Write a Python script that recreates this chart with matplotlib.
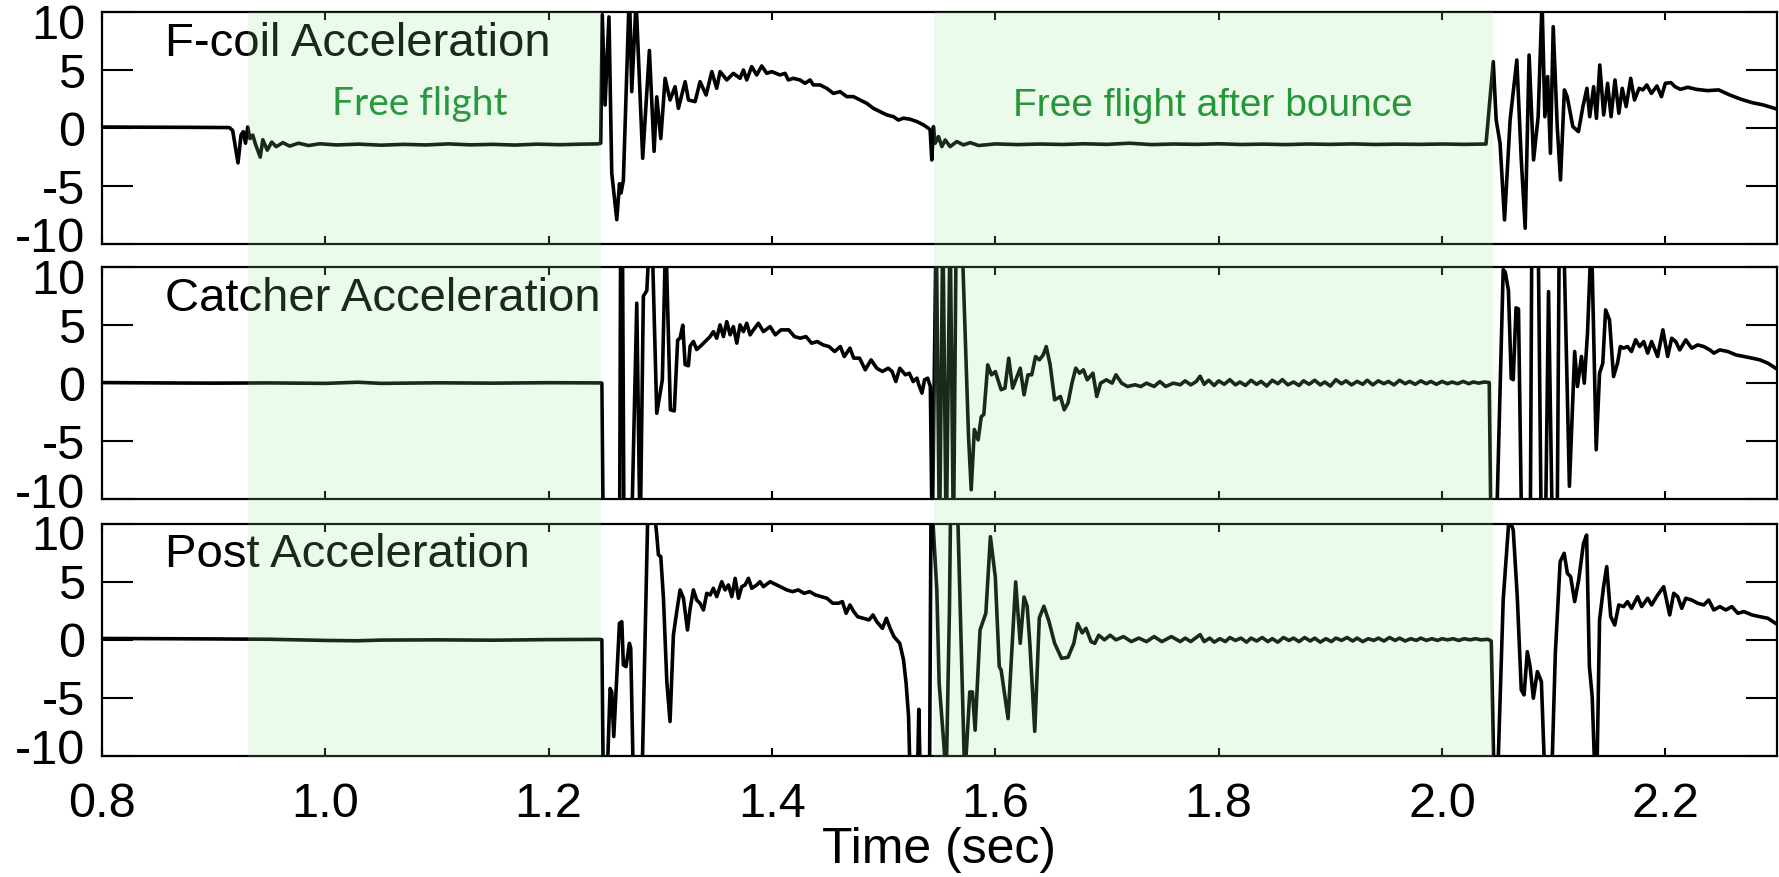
import numpy as np
import matplotlib
matplotlib.use("Agg")
import matplotlib.pyplot as plt
import matplotlib.transforms as mtransforms
from matplotlib import font_manager
from matplotlib.patches import Rectangle

plt.rcParams['font.family'] = ['Liberation Sans', 'DejaVu Sans']
plt.rcParams['axes.unicode_minus'] = False

# --- accelerometer traces: (time in s, acceleration) ---
fcoil = [
    (0.800, 0.10), (0.840, 0.08), (0.880, 0.07), (0.914, 0.05),
    (0.917, -0.2), (0.9218, -3.0), (0.9245, -0.6), (0.9265, -0.3), (0.9285, -1.3),
    (0.9305, 0.1), (0.9325, -0.9), (0.9350, -0.6), (0.9375, -1.4), (0.9417, -2.5),
    (0.9440, -1.0), (0.9480, -1.9), (0.9520, -1.2), (0.9560, -1.6), (0.9620, -1.25),
    (0.9680, -1.55), (0.9760, -1.30), (0.9850, -1.50), (0.9950, -1.35), (1.010, -1.45),
    (1.030, -1.38), (1.050, -1.47), (1.070, -1.40), (1.090, -1.45), (1.110, -1.36),
    (1.130, -1.44), (1.150, -1.40), (1.170, -1.46), (1.190, -1.38), (1.210, -1.43),
    (1.230, -1.38), (1.2443, -1.36), (1.2466, -1.30),
    (1.2480, 9.8), (1.2505, 2.0), (1.2540, 9.6), (1.2565, -3.9), (1.2610, -7.9),
    (1.2634, -4.8), (1.2648, -5.6), (1.2669, -4.5), (1.2723, 12.0), (1.2744, 3.15),
    (1.2783, 11.0), (1.2842, -2.6), (1.2902, 6.7), (1.2944, -2.0), (1.2968, 2.7),
    (1.3004, -0.9), (1.3043, 4.30), (1.3087, 2.43), (1.3132, 3.58), (1.3162, 1.71),
    (1.3222, 4.01), (1.3252, 2.43), (1.3311, 2.29), (1.3356, 4.01), (1.3410, 2.86),
    (1.3461, 4.88), (1.3505, 3.44), (1.3535, 4.88), (1.3595, 4.16), (1.3654, 4.73),
    (1.3714, 4.30), (1.3744, 5.02), (1.3774, 4.16), (1.3818, 5.31), (1.3863, 4.59),
    (1.3908, 5.37), (1.3953, 4.73), (1.3997, 4.88), (1.4072, 4.59), (1.4117, 4.73),
    (1.4146, 4.16), (1.4191, 4.30), (1.4251, 4.16), (1.4296, 3.87), (1.4341, 4.16),
    (1.4370, 3.73), (1.4430, 3.73), (1.4490, 3.44), (1.4550, 3.00), (1.4610, 3.15),
    (1.4669, 2.72), (1.4729, 2.72), (1.4789, 2.43), (1.4849, 2.14), (1.4908, 1.71),
    (1.4968, 1.43), (1.5028, 1.14), (1.5088, 0.99), (1.5132, 0.70), (1.5177, 0.86),
    (1.5237, 0.77), (1.5297, 0.57), (1.5357, 0.28), (1.5401, -0.01), (1.5416, -0.16),
    (1.5431, -2.74), (1.5446, 0.13), (1.5461, -1.31), (1.5491, -0.73), (1.5521, -1.59),
    (1.5551, -1.02), (1.5595, -1.59), (1.5655, -1.16), (1.5715, -1.45), (1.5775, -1.25),
    (1.5850, -1.50), (1.600, -1.36), (1.620, -1.42), (1.640, -1.37), (1.660, -1.41),
    (1.680, -1.35), (1.700, -1.40), (1.720, -1.30), (1.740, -1.42), (1.760, -1.37),
    (1.780, -1.40), (1.800, -1.35), (1.820, -1.41), (1.840, -1.38), (1.860, -1.42),
    (1.880, -1.37), (1.900, -1.40), (1.920, -1.36), (1.940, -1.41), (1.960, -1.38),
    (1.980, -1.40), (2.000, -1.37), (2.020, -1.40), (2.0394, -1.37),
    (2.0459, 5.74), (2.0485, 0.71), (2.0520, -1.31), (2.0560, -7.92), (2.0610, 0.71),
    (2.0670, 5.88), (2.0710, -2.74), (2.0745, -8.64), (2.0780, 6.31), (2.0820, -2.74),
    (2.0861, 0.99), (2.0896, 11.0), (2.0921, 0.99), (2.0946, 4.45), (2.0971, -2.17),
    (2.0996, 8.76), (2.1032, 0.13), (2.1061, -4.47), (2.1096, 3.30), (2.1121, 2.72),
    (2.1172, 0.13), (2.1222, -0.30), (2.1262, 1.86), (2.1298, 3.44), (2.1323, 0.99),
    (2.1358, 3.58), (2.1383, 0.85), (2.1413, 5.45), (2.1448, 1.14), (2.1483, 3.87),
    (2.1514, 0.99), (2.1549, 4.16), (2.1584, 1.28), (2.1614, 3.44), (2.1649, 1.86),
    (2.1690, 4.30), (2.1724, 2.43), (2.1765, 3.44), (2.1799, 3.30), (2.1834, 3.73),
    (2.1875, 3.00), (2.1925, 3.64), (2.1965, 2.72), (2.2000, 3.87), (2.2050, 3.93),
    (2.2086, 3.58), (2.2136, 3.35), (2.2201, 3.53), (2.2277, 3.35), (2.2377, 3.24),
    (2.2478, 3.30), (2.2578, 2.86), (2.2678, 2.49), (2.2778, 2.20), (2.2879, 2.00),
    (2.3004, 1.63),
]

catcher = [
    (0.800, 0.05), (0.850, 0.02), (0.900, 0.00), (0.950, 0.02), (1.000, -0.02),
    (1.029, 0.08), (1.050, -0.02), (1.100, 0.03), (1.150, 0.00), (1.200, 0.04),
    (1.246, 0.02), (1.2476, 0.0), (1.2490, -14), (1.2635, -14), (1.2645, 14),
    (1.2660, 14), (1.2675, -14), (1.2740, -14), (1.2789, 6.9), (1.2819, -14),
    (1.2848, 7.5), (1.2879, 8.0), (1.2905, 13), (1.2925, 13), (1.2968, -2.6),
    (1.3018, 0.3), (1.3048, 13), (1.3090, -2.3), (1.3125, -2.4), (1.3155, 3.7),
    (1.3177, 3.9), (1.3201, 5.0), (1.3222, 1.6), (1.3251, 1.5), (1.3267, 3.2),
    (1.3296, 3.6), (1.3326, 2.9), (1.3371, 3.3), (1.3416, 3.73), (1.3446, 4.02),
    (1.3475, 4.45), (1.3505, 3.88), (1.3535, 5.03), (1.3565, 4.02), (1.3595, 5.31),
    (1.3625, 4.17), (1.3654, 4.88), (1.3685, 3.45), (1.3714, 5.03), (1.3744, 4.45),
    (1.3774, 5.17), (1.3804, 4.17), (1.3834, 4.60), (1.3878, 5.17), (1.3923, 4.45),
    (1.3983, 4.88), (1.4030, 4.17), (1.4081, 4.60), (1.4150, 4.60), (1.4201, 4.02),
    (1.4253, 3.88), (1.4304, 4.02), (1.4355, 3.45), (1.4406, 3.59), (1.4458, 3.30),
    (1.4510, 3.16), (1.4561, 2.73), (1.4612, 3.16), (1.4647, 2.30), (1.4698, 3.02),
    (1.4732, 2.16), (1.4784, 2.16), (1.4835, 1.15), (1.4887, 2.01), (1.4938, 1.29),
    (1.4989, 1.01), (1.5041, 1.29), (1.5075, 1.01), (1.5109, 0.14), (1.5144, 1.29),
    (1.5195, 0.72), (1.5229, 0.86), (1.5264, 0.14), (1.5298, 0.43), (1.5315, -0.14),
    (1.5343, -0.86), (1.5366, 0.29), (1.5394, 0.43), (1.5418, -0.29), (1.5435, -14),
    (1.5470, 14), (1.5500, -14), (1.5530, 14), (1.5560, -14), (1.5595, 14),
    (1.5625, -14), (1.5650, 14), (1.5700, 13), (1.5760, -4.6), (1.5784, -9.2),
    (1.5812, -4.0), (1.5846, -4.9), (1.5874, -2.9), (1.5897, -2.7), (1.5932, 1.58),
    (1.5966, 0.72), (1.6000, 1.00), (1.6052, -0.57), (1.6086, -0.43), (1.6120, 2.16),
    (1.6155, -0.43), (1.6189, 0.43), (1.6223, 1.29), (1.6257, -1.01), (1.6292, 0.72),
    (1.6326, 0.72), (1.6360, 2.30), (1.6394, 2.01), (1.6429, 2.44), (1.6456, 3.16),
    (1.6491, 1.58), (1.6531, -1.44), (1.6583, -1.15), (1.6617, -2.30), (1.6651, -1.72),
    (1.6686, 0.00), (1.6720, 1.29), (1.6754, 0.86), (1.6789, 1.15), (1.6823, 0.29),
    (1.6874, 0.86), (1.6908, -1.15), (1.6943, 0.00), (1.6994, 0.29), (1.7046, 0.00),
    (1.7080, 0.72), (1.7131, 0.00), (1.7183, -0.29), (1.7251, -0.14), (1.7303, -0.29),
    (1.7354, 0.00), (1.7422, -0.29), (1.7474, 0.14), (1.7525, -0.29), (1.7594, 0.00),
    (1.7656, -0.14), (1.770, 0.20), (1.775, -0.15), (1.780, 0.15), (1.7834, 0.60),
    (1.787, -0.10), (1.791, 0.25), (1.796, -0.20), (1.800, 0.20), (1.805, -0.10),
    (1.810, 0.30), (1.815, -0.15), (1.819, 0.10), (1.824, -0.20), (1.829, 0.25),
    (1.834, -0.10), (1.838, 0.15), (1.843, -0.25), (1.848, 0.25), (1.853, -0.05),
    (1.857, 0.30), (1.862, -0.15), (1.867, 0.10), (1.872, -0.20), (1.876, 0.20),
    (1.881, -0.10), (1.886, 0.25), (1.891, -0.15), (1.895, 0.10), (1.900, -0.25),
    (1.905, 0.30), (1.910, -0.05), (1.914, 0.20), (1.919, -0.15), (1.924, 0.15),
    (1.929, -0.10), (1.933, 0.25), (1.938, -0.15), (1.943, 0.20), (1.948, -0.05),
    (1.952, 0.15), (1.957, -0.15), (1.962, 0.25), (1.967, -0.05), (1.971, 0.15),
    (1.976, -0.10), (1.981, 0.20), (1.986, -0.05), (1.990, 0.15), (1.995, -0.10),
    (2.000, 0.15), (2.005, -0.05), (2.009, 0.10), (2.014, -0.05), (2.019, 0.15),
    (2.024, -0.05), (2.028, 0.10), (2.033, 0.00), (2.038, 0.10), (2.0423, 0.05),
    (2.0440, -14), (2.0484, -14), (2.0548, 9.8), (2.0566, 9.6), (2.0595, 8.0),
    (2.0620, 0.4), (2.0638, 0.3), (2.0663, 6.5), (2.0685, 6.4), (2.0715, -14),
    (2.0790, -14), (2.0805, 14), (2.0860, 14), (2.0890, -14), (2.0925, -14),
    (2.0954, 7.9), (2.0990, -14), (2.1030, -14), (2.1051, 14), (2.1087, 14),
    (2.1141, -8.9), (2.1188, 2.73), (2.1213, -0.29), (2.1249, 2.30), (2.1274, 0.00),
    (2.1303, 4.31), (2.1338, 13), (2.1381, -5.75), (2.1411, 0.86), (2.1440, 1.72),
    (2.1465, 6.32), (2.1500, 5.46), (2.1536, 0.57), (2.1572, 1.72), (2.1597, 3.16),
    (2.1626, 3.02), (2.1661, 3.16), (2.1697, 2.73), (2.1734, 3.74), (2.1770, 3.16),
    (2.1806, 3.59), (2.1842, 2.59), (2.1877, 3.59), (2.1931, 2.30), (2.1978, 4.60),
    (2.2021, 2.30), (2.2057, 3.88), (2.2093, 3.59), (2.2129, 2.87), (2.2183, 3.74),
    (2.2236, 3.02), (2.2290, 3.30), (2.2344, 3.16), (2.2399, 2.87), (2.2434, 2.59),
    (2.2488, 2.87), (2.2560, 2.73), (2.2632, 2.44), (2.2704, 2.30), (2.2776, 2.16),
    (2.2847, 2.01), (2.2919, 1.72), (2.3010, 1.15),
]

post = [
    (0.800, 0.12), (0.850, 0.10), (0.900, 0.08), (0.950, 0.05), (1.000, -0.05),
    (1.028, -0.08), (1.050, -0.02), (1.100, 0.00), (1.150, -0.03), (1.200, 0.02),
    (1.246, 0.04), (1.2476, 0.0), (1.2490, -13), (1.2520, -13), (1.2550, -4.2),
    (1.2565, -4.5), (1.2583, -8.35), (1.2634, 1.43), (1.2655, 1.57), (1.2669, -2.17),
    (1.2693, -2.31), (1.2723, -0.30), (1.2735, -0.72), (1.2760, -13), (1.2834, -13),
    (1.2890, 12), (1.2938, 12), (1.2968, 9.05), (1.2983, 7.33), (1.3004, 7.18),
    (1.3028, 3.59), (1.3058, -3.60), (1.3087, -7.05), (1.3117, 0.42), (1.3147, 2.44),
    (1.3177, 4.31), (1.3207, 3.59), (1.3243, 0.85), (1.3267, 2.72), (1.3296, 4.31),
    (1.3326, 3.44), (1.3356, 3.15), (1.3386, 2.58), (1.3416, 4.02), (1.3446, 3.87),
    (1.3475, 4.45), (1.3505, 3.73), (1.3550, 5.02), (1.3580, 4.31), (1.3610, 4.74),
    (1.3640, 3.73), (1.3670, 5.31), (1.3700, 3.59), (1.3729, 4.59), (1.3759, 4.74),
    (1.3789, 5.31), (1.3819, 4.45), (1.3864, 4.74), (1.3893, 5.02), (1.3923, 4.59),
    (1.3983, 5.02), (1.4133, 4.31), (1.4184, 4.16), (1.4235, 4.31), (1.4287, 4.02),
    (1.4338, 4.16), (1.4390, 3.87), (1.4441, 3.73), (1.4492, 3.59), (1.4544, 3.16),
    (1.4595, 3.16), (1.4630, 3.30), (1.4664, 2.29), (1.4698, 3.01), (1.4732, 2.44),
    (1.4767, 2.00), (1.4818, 1.86), (1.4869, 1.72), (1.4904, 2.15), (1.4938, 1.57),
    (1.4989, 0.99), (1.5024, 1.86), (1.5058, 0.99), (1.5092, 0.28), (1.5144, -0.30),
    (1.5178, -1.74), (1.5201, -3.75), (1.5223, -6.62), (1.5240, -13), (1.5300, -13),
    (1.5315, -6.0), (1.5330, -13), (1.5410, -13), (1.5425, 13), (1.5476, 4.3),
    (1.5497, -3.75), (1.5538, -8.9), (1.5560, -12), (1.5589, 2.6), (1.5600, 12),
    (1.5630, 12), (1.5660, 12), (1.5726, -12), (1.5771, -4.5), (1.5795, -4.5),
    (1.5819, -7.8), (1.5863, 0.85), (1.5915, 2.3), (1.5956, 8.9), (1.6000, 5.4),
    (1.6035, -2.3), (1.6052, -2.6), (1.6114, -6.8), (1.6182, 5.0), (1.6223, -0.3),
    (1.6257, 3.7), (1.6285, 2.9), (1.6309, -0.3), (1.6353, -7.9), (1.6394, 1.9),
    (1.6435, 2.9), (1.6480, 1.6), (1.6531, -0.3), (1.6593, -1.6), (1.6651, -1.5),
    (1.6703, -0.3), (1.6737, 1.4), (1.6778, 0.6), (1.6812, 1.0), (1.6857, -0.15),
    (1.6891, -0.3), (1.6926, 0.4), (1.6977, 0.0), (1.7028, 0.4), (1.7080, 0.0),
    (1.7148, 0.28), (1.7217, -0.15), (1.7285, 0.15), (1.7354, -0.15), (1.7422, 0.28),
    (1.7491, -0.15), (1.7577, 0.28), (1.7656, -0.15),
    (1.770, 0.15), (1.775, -0.15), (1.7834, 0.45), (1.787, -0.15), (1.792, 0.15),
    (1.796, -0.20), (1.801, 0.10), (1.806, -0.15), (1.810, 0.20), (1.815, -0.05),
    (1.820, 0.15), (1.825, -0.20), (1.829, 0.15), (1.834, -0.10), (1.839, 0.20),
    (1.844, -0.15), (1.848, 0.10), (1.853, -0.20), (1.858, 0.20), (1.863, -0.05),
    (1.867, 0.15), (1.872, -0.15), (1.877, 0.20), (1.882, -0.10), (1.886, 0.15),
    (1.891, -0.20), (1.896, 0.10), (1.901, -0.15), (1.905, 0.15), (1.910, -0.05),
    (1.915, 0.20), (1.920, -0.10), (1.924, 0.15), (1.929, -0.15), (1.934, 0.10),
    (1.939, -0.05), (1.943, 0.15), (1.948, -0.10), (1.953, 0.20), (1.958, -0.05),
    (1.962, 0.15), (1.967, -0.10), (1.972, 0.10), (1.977, -0.05), (1.981, 0.15),
    (1.986, -0.05), (1.991, 0.10), (1.996, -0.05), (2.000, 0.10), (2.005, 0.00),
    (2.010, 0.10), (2.015, -0.05), (2.020, 0.10), (2.025, 0.00), (2.030, 0.10),
    (2.035, 0.00), (2.041, 0.05), (2.0441, -0.10), (2.0468, -13), (2.0495, -13),
    (2.0548, 3.44), (2.0600, 10.5), (2.0638, 9.48), (2.0674, 3.73), (2.0710, -4.32),
    (2.0735, -4.75), (2.0764, -1.02), (2.0789, -2.31), (2.0818, -5.04), (2.0854, -2.74),
    (2.0890, -3.60), (2.0925, -13), (2.0979, -13), (2.1015, -1.16), (2.1058, 6.75),
    (2.1094, 7.47), (2.1123, 5.74), (2.1152, 5.45), (2.1188, 3.30), (2.1224, 5.17),
    (2.1267, 8.33), (2.1295, 9.05), (2.1320, -2.31), (2.1345, -4.90), (2.1374, -13),
    (2.1385, -13), (2.1411, 1.72), (2.1447, 4.59), (2.1475, 6.32), (2.1511, 2.00),
    (2.1547, 1.28), (2.1583, 3.01), (2.1626, 2.87), (2.1661, 3.30), (2.1697, 2.72),
    (2.1752, 3.73), (2.1788, 2.87), (2.1842, 3.59), (2.1877, 3.01), (2.1931, 3.87),
    (2.1985, 4.59), (2.2039, 2.15), (2.2075, 4.02), (2.2111, 3.73), (2.2147, 2.72),
    (2.2183, 3.59), (2.2236, 3.44), (2.2290, 3.16), (2.2344, 3.01), (2.2388, 3.44),
    (2.2434, 2.58), (2.2488, 2.87), (2.2542, 2.58), (2.2596, 2.87), (2.2650, 2.29),
    (2.2704, 2.44), (2.2776, 2.15), (2.2847, 2.00), (2.2919, 1.86), (2.3010, 1.28),
]

traces = [fcoil, catcher, post]
panel_labels = ["F-coil Acceleration", "Catcher Acceleration", "Post Acceleration"]
free_flight_spans = [(0.931, 1.247), (1.545, 2.046)]
x_ticks = [0.8, 1.0, 1.2, 1.4, 1.6, 1.8, 2.0, 2.2]
y_ticks = [-10, -5, 0, 5, 10]

# pick a condensed face for the second annotation if one is installed
installed = {f.name for f in font_manager.fontManager.ttflist}
if 'Liberation Sans Narrow' in installed:
    bounce_font, bounce_size = 'Liberation Sans Narrow', 34
else:
    bounce_font, bounce_size = 'Liberation Sans', 28

W, H = 1779, 877
fig = plt.figure(figsize=(W / 100, H / 100), dpi=100)

left = 102 / W
width = (1777 - 102) / W
panel_tops = [12.3, 267.3, 524.0]
panel_h = 231.7

# nudge the end labels (+/-10) inwards so neighbouring panels don't collide
nudge = 9 / 100

axes = []
for i, (trace, label) in enumerate(zip(traces, panel_labels)):
    top = panel_tops[i]
    ax = fig.add_axes([left, 1 - (top + panel_h) / H, width, panel_h / H])
    t, v = np.array(trace).T
    ax.plot(t, v, color='black', lw=2.6)
    ax.set_xlim(0.8, 2.3)
    ax.set_ylim(-10, 10)
    ax.set_xticks(x_ticks)
    ax.set_yticks(y_ticks)
    ax.set_xticklabels([f"{x:.1f}" for x in x_ticks])
    ax.tick_params(axis='y', direction='in', length=22, width=1.5,
                   left=True, right=True, labelsize=35, pad=12)
    ax.tick_params(axis='x', direction='in', length=6, width=1.5,
                   top=True, bottom=True, labelsize=35, pad=19)
    if i < 2:
        ax.tick_params(axis='x', labelbottom=False)
    for s in ax.spines.values():
        s.set_linewidth(1.6)
    yt = ax.yaxis.get_major_ticks()
    lo, hi = yt[0].label1, yt[-1].label1
    lo.set_transform(lo.get_transform()
                     + mtransforms.ScaledTranslation(0, nudge, fig.dpi_scale_trans))
    hi.set_transform(hi.get_transform()
                     + mtransforms.ScaledTranslation(0, -nudge, fig.dpi_scale_trans))
    ax.text(0.0376, 0.865, label, transform=ax.transAxes,
            fontsize=34, ha='left', va='center')
    axes.append(ax)

fig.text((102 + 1777) / 2 / W, 1 - 850 / H, "Time (sec)",
         fontsize=36, ha='center', va='center')

# free-flight windows, laid over all three panels
shade_tr = mtransforms.blended_transform_factory(axes[2].transData, fig.transFigure)
y0 = 1 - 758 / H
y1 = 1 - 12.3 / H
for a, b in free_flight_spans:
    rect = Rectangle((a, y0), b - a, y1 - y0, transform=shade_tr,
                     facecolor=(150 / 255, 230 / 255, 150 / 255), alpha=0.18,
                     edgecolor='none', zorder=5)
    fig.add_artist(rect)

fig.text(1.0844, 2.1, "Free flight", transform=axes[0].transData,
         family=['Lato', 'DejaVu Sans'], fontsize=28, color='#2a9842',
         ha='center', va='center', zorder=6)
fig.text(1.7947, 1.9, "Free flight after bounce", transform=axes[0].transData,
         family=[bounce_font, 'DejaVu Sans'], fontsize=bounce_size, color='#25963a',
         ha='center', va='center', zorder=6)

fig.savefig("out.png", dpi=100)
